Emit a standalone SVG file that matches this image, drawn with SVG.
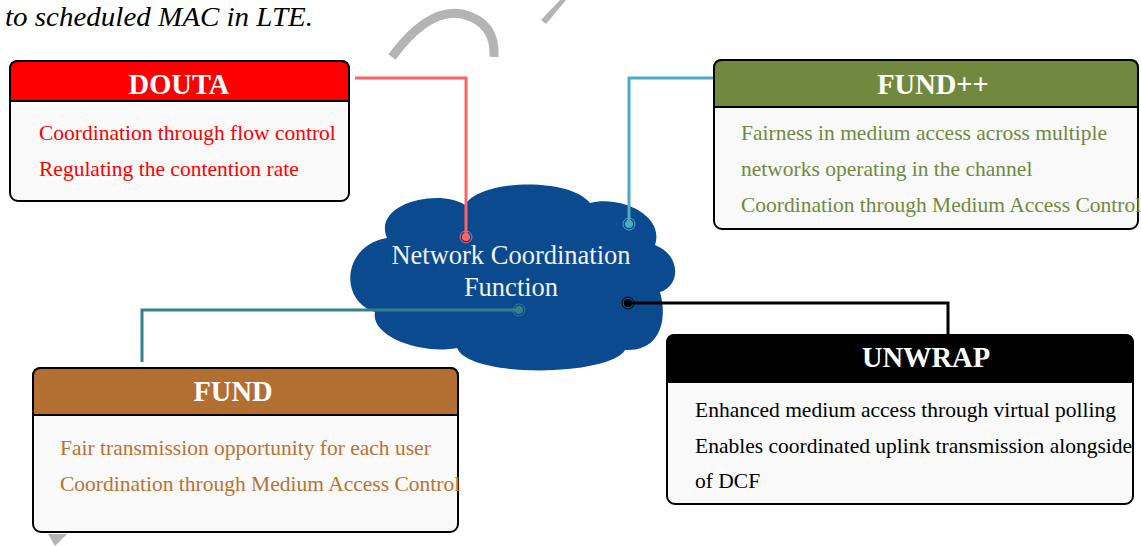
<svg xmlns="http://www.w3.org/2000/svg" width="1141" height="546" viewBox="0 0 1141 546">
<style>
.box{fill:#f9f9f9;stroke:#000;stroke-width:2}
.title{font-family:"Liberation Serif","Times New Roman",serif;font-weight:bold;font-size:28.5px;fill:#fff;text-anchor:middle}
.body{font-family:"Liberation Serif","Times New Roman",serif;font-size:21.5px}
.conn{fill:none;stroke-width:3}
.wm{fill:#b4b4b4;stroke:none}
</style>
<rect width="1141" height="546" fill="#fff"/>
<g id="watermark">
<path d="M 392 57 Q 428 8 462 14 Q 496 22 494 57" fill="none" stroke="#b4b4b4" stroke-width="9"/>
<polygon class="wm" points="541,20 560,0 566,0 546,24"/>
<polygon class="wm" points="48,534 67,534 55,546"/>
</g>
<text x="5" y="26" font-family="Liberation Serif, Times New Roman, serif" font-style="italic" font-size="27" textLength="308" lengthAdjust="spacingAndGlyphs" fill="#000">to scheduled MAC in LTE.</text>
<g id="cloud">
<path d="M 387 238 C 372 203 440 188 465 205 C 480 179 570 177 590 203 C 620 195 665 215 655 245 C 681 255 681 286 660 292 C 668 320 660 352 625 350 C 610 376 470 379 457 348 C 420 355 370 336 375 312 C 338 300 343 245 387 238 Z" fill="#0b4a8f"/>
<text x="511" y="264" font-family="Liberation Serif, Times New Roman, serif" font-size="26.5" fill="#f2f2f2" text-anchor="middle">Network Coordination</text>
<text x="511" y="296" font-family="Liberation Serif, Times New Roman, serif" font-size="26.5" fill="#f2f2f2" text-anchor="middle">Function</text>
</g>
<g id="connectors">
<polyline class="conn" stroke="#ff6262" points="355,78 466,78 466,237"/>
<circle cx="466" cy="237" r="4" fill="#ff6262"/><circle cx="466" cy="237" r="6" fill="none" stroke="#ff6262" stroke-width="1"/>
<polyline class="conn" stroke="#4bacc6" points="714,78 629,78 629,224"/>
<circle cx="629" cy="224" r="4" fill="#4bacc6"/><circle cx="629" cy="224" r="6" fill="none" stroke="#4bacc6" stroke-width="1"/>
<polyline class="conn" stroke="#35808f" points="519,310 142,310 142,362"/>
<circle cx="519" cy="310" r="4" fill="#35808f"/><circle cx="519" cy="310" r="6" fill="none" stroke="#35808f" stroke-width="1"/>
<polyline class="conn" stroke="#000" points="628,303 948,303 948,335"/>
<circle cx="628" cy="303" r="4" fill="#000"/><circle cx="628" cy="303" r="6" fill="none" stroke="#000" stroke-width="1"/>
</g>
<g id="douta">
<rect class="box" x="10" y="61" width="339" height="140" rx="8"/>
<path d="M 10 101 V 69 Q 10 61 18 61 H 341 Q 349 61 349 69 V 101 Z" fill="#ff0000" stroke="#000" stroke-width="2"/>
<text class="title" x="179" y="94">DOUTA</text>
<text class="body" fill="#ff0000" x="39" y="140">Coordination through flow control</text>
<text class="body" fill="#ff0000" x="39" y="176">Regulating the contention rate</text>
</g>
<g id="fundpp">
<rect class="box" x="714" y="60" width="424" height="169" rx="8"/>
<path d="M 714 107 V 68 Q 714 60 722 60 H 1130 Q 1138 60 1138 68 V 107 Z" fill="#71893f" stroke="#000" stroke-width="2"/>
<text class="title" x="933" y="94">FUND++</text>
<text class="body" fill="#71893f" x="741" y="140">Fairness in medium access across multiple</text>
<text class="body" fill="#71893f" x="741" y="176">networks operating in the channel</text>
<text class="body" fill="#71893f" x="741" y="212">Coordination through Medium Access Control</text>
</g>
<g id="fund">
<rect class="box" x="33" y="368" width="425" height="164" rx="8"/>
<path d="M 33 415 V 376 Q 33 368 41 368 H 450 Q 458 368 458 376 V 415 Z" fill="#b36e32" stroke="#000" stroke-width="2"/>
<text class="title" x="233" y="401">FUND</text>
<text class="body" fill="#b87333" x="60" y="455">Fair transmission opportunity for each user</text>
<text class="body" fill="#b87333" x="60" y="491">Coordination through Medium Access Control</text>
</g>
<g id="unwrap">
<rect class="box" x="667" y="335" width="466" height="169" rx="8"/>
<path d="M 667 382 V 343 Q 667 335 675 335 H 1125 Q 1133 335 1133 343 V 382 Z" fill="#000" stroke="#000" stroke-width="2"/>
<text class="title" x="926" y="367">UNWRAP</text>
<text class="body" fill="#000" x="695" y="417">Enhanced medium access through virtual polling</text>
<text class="body" fill="#000" x="695" y="453">Enables coordinated uplink transmission alongside</text>
<text class="body" fill="#000" x="695" y="488">of DCF</text>
</g>
</svg>
